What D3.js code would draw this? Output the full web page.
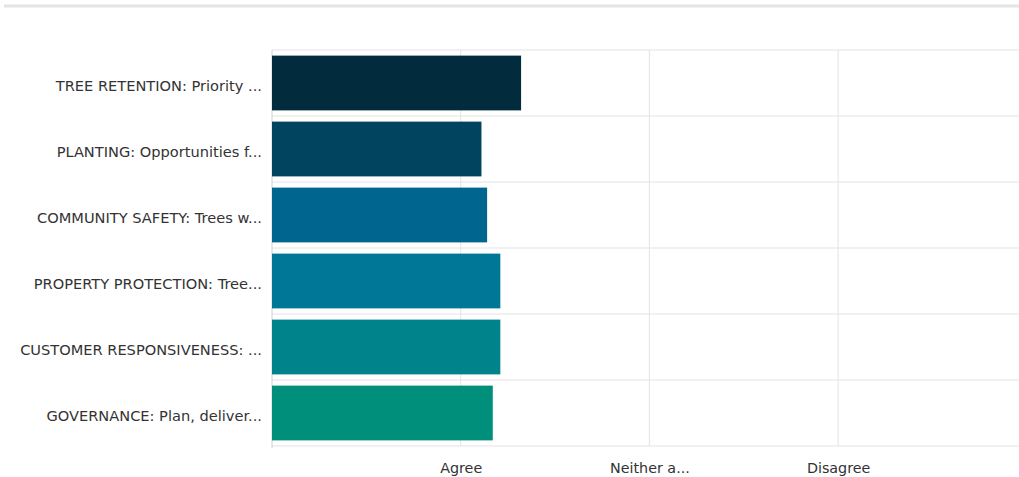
<!DOCTYPE html>
<html>
<head>
<meta charset="utf-8">
<script src="https://cdn.jsdelivr.net/npm/d3@7"></script>
<style>
  body { margin: 0; background: #fff; }
  svg { display: block; font-family: "DejaVu Sans", Verdana, sans-serif; }
</style>
</head>
<body>
<div class="visuals"></div>
<script>
// chart data
const categories = [
  "TREE RETENTION: Priority ...",
  "PLANTING: Opportunities f...",
  "COMMUNITY SAFETY: Trees w...",
  "PROPERTY PROTECTION: Tree...",
  "CUSTOMER RESPONSIVENESS: ...",
  "GOVERNANCE: Plan, deliver..."
];
const values = [1.32, 1.11, 1.14, 1.21, 1.21, 1.17];
const barColors = ["#022c3d", "#00445f", "#00658f", "#007796", "#00838b", "#008f7a"];
const tickValues = [1, 2, 3];
const tickLabels = ["Agree", "Neither a...", "Disagree"];

let width = 1019;
let height = 477;
const margin = {top: 50, left: 272, bottom: 446};

const svg = d3.select(".visuals")
  .append("svg")
  .attr("width", width)
  .attr("height", height);

// thin divider at the top
svg.append("line")
  .attr("x1", 4).attr("x2", width)
  .attr("y1", 6).attr("y2", 6)
  .attr("stroke", "#e4e4e4")
  .attr("stroke-width", 3);

const x = d3.scaleLinear().domain([0, 4]).range([margin.left, margin.left + 4 * 188.7]);
const y = d3.scaleBand().domain(categories).range([margin.top, margin.bottom]).paddingInner(0.17).paddingOuter(0.085);

// horizontal grid lines on band edges
const bandEdges = categories.map(c => y(c) - (y.step() - y.bandwidth()) / 2).concat([margin.bottom]);
svg.append("g")
  .selectAll("line")
  .data(bandEdges)
  .enter()
  .append("line")
  .attr("x1", margin.left).attr("x2", width)
  .attr("y1", d => d).attr("y2", d => d)
  .attr("stroke", "#e3e3e3");

// vertical grid lines
svg.append("g")
  .selectAll("line")
  .data(tickValues)
  .enter()
  .append("line")
  .attr("x1", d => x(d)).attr("x2", d => x(d))
  .attr("y1", margin.top).attr("y2", margin.bottom)
  .attr("stroke", "#e3e3e3");

// y axis line
svg.append("line")
  .attr("x1", margin.left).attr("x2", margin.left)
  .attr("y1", margin.top).attr("y2", margin.bottom + 2)
  .attr("stroke", "#d0d0d0");

// bars
svg.selectAll("rect.bar")
  .data(values)
  .enter()
  .append("rect")
  .attr("class", "bar")
  .attr("x", x(0))
  .attr("y", (d, i) => y(categories[i]))
  .attr("width", d => x(d) - x(0))
  .attr("height", y.bandwidth())
  .attr("fill", (d, i) => barColors[i]);

// y labels
const yAxis = d3.axisLeft(y).tickSize(0).tickPadding(10);
const gy = svg.append("g").attr("transform", `translate(${margin.left},3)`).call(yAxis);
gy.select(".domain").remove();
gy.selectAll("text").attr("fill", "#333").style("font-size", "14.6px").style("font-family", "DejaVu Sans, Verdana, sans-serif");

// x labels
const xAxis = d3.axisBottom(x).tickValues(tickValues).tickFormat((d, i) => tickLabels[i]).tickSize(0).tickPadding(17);
const gx = svg.append("g").attr("transform", `translate(0,${margin.bottom})`).call(xAxis);
gx.select(".domain").remove();
gx.selectAll("text").attr("fill", "#333").style("font-size", "14.3px").style("font-family", "DejaVu Sans, Verdana, sans-serif");
</script>
</body>
</html>
